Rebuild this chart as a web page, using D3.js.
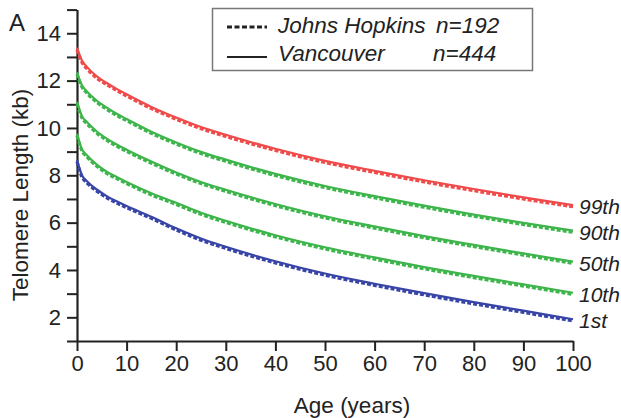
<!DOCTYPE html>
<html>
<head>
<meta charset="utf-8">
<script src="https://cdn.jsdelivr.net/npm/d3@7"></script>
<style>
  body { margin: 0; background: #fff; }
  svg { display: block; font-family: "Liberation Sans", Arial, sans-serif; }
</style>
</head>
<body>
<svg id="grafico" width="621" height="418"></svg>
<script>
// idades (anos) onde as curvas foram lidas
const idades = [0, 1, 2, 4, 6, 8, 10, 15, 20, 25, 30, 40, 50, 60, 70, 80, 90, 100];

// Vancouver (linha continua)
const vanP99 = [13.39, 12.85, 12.58, 12.18, 11.9, 11.65, 11.42, 10.89, 10.44, 10.04, 9.71, 9.12, 8.61, 8.19, 7.79, 7.42, 7.07, 6.74];
const vanP90 = [12.35, 11.8, 11.54, 11.15, 10.86, 10.6, 10.38, 9.84, 9.39, 8.99, 8.66, 8.06, 7.55, 7.12, 6.72, 6.34, 5.99, 5.66];
const vanP50 = [11.1, 10.5, 10.25, 9.85, 9.55, 9.3, 9.08, 8.58, 8.12, 7.72, 7.39, 6.79, 6.27, 5.84, 5.43, 5.06, 4.7, 4.35];
const vanP10 = [9.75, 9.1, 8.85, 8.45, 8.15, 7.93, 7.72, 7.24, 6.84, 6.42, 6.08, 5.47, 4.96, 4.53, 4.12, 3.75, 3.39, 3.04];
const vanP1 = [8.65, 8.0, 7.75, 7.4, 7.12, 6.9, 6.7, 6.25, 5.76, 5.33, 4.98, 4.37, 3.85, 3.42, 3.02, 2.64, 2.28, 1.92];

// Johns Hopkins (linha tracejada)
const jhP99 = [13.3, 12.77, 12.5, 12.1, 11.83, 11.58, 11.35, 10.82, 10.37, 9.97, 9.64, 9.05, 8.54, 8.12, 7.72, 7.35, 7.0, 6.67];
const jhP90 = [12.28, 11.73, 11.47, 11.08, 10.79, 10.53, 10.31, 9.77, 9.32, 8.92, 8.59, 7.99, 7.48, 7.05, 6.65, 6.27, 5.92, 5.59];
const jhP50 = [11.03, 10.43, 10.18, 9.78, 9.48, 9.23, 9.01, 8.51, 8.05, 7.65, 7.32, 6.72, 6.2, 5.77, 5.36, 4.99, 4.63, 4.28];
const jhP10 = [9.68, 9.03, 8.78, 8.38, 8.08, 7.86, 7.65, 7.17, 6.77, 6.35, 6.01, 5.4, 4.89, 4.46, 4.05, 3.68, 3.32, 2.97];
const jhP1 = [8.58, 7.93, 7.68, 7.33, 7.05, 6.83, 6.63, 6.18, 5.69, 5.26, 4.91, 4.3, 3.78, 3.35, 2.95, 2.57, 2.21, 1.85];

const percentis = ["99th", "90th", "50th", "10th", "1st"];
const coresPercentis = ["#ef4b4b", "#3db54b", "#3db54b", "#3db54b", "#3845a6"];
const seriesVan = [vanP99, vanP90, vanP50, vanP10, vanP1];
const seriesJh = [jhP99, jhP90, jhP50, jhP10, jhP1];

const ticksX = [0, 10, 20, 30, 40, 50, 60, 70, 80, 90, 100];
const ticksY = [1, 2, 3, 4, 5, 6, 7, 8, 9, 10, 11, 12, 13, 14, 15];
const rotulosY = [2, 4, 6, 8, 10, 12, 14];

const svg = d3.select("#grafico");
const corTexto = "#222";

const x = d3.scaleLinear().domain([0, 100]).range([77, 573]);
const y = d3.scaleLinear().domain([1, 15]).range([341, 9.6]);

// eixo X
const eixoX = svg.append("g")
    .attr("transform", "translate(0,341)")
    .call(d3.axisBottom(x).tickValues(ticksX).tickSize(10).tickSizeOuter(0).tickFormat(d3.format("d")));
eixoX.select(".domain").attr("stroke", corTexto).attr("stroke-width", 2.2);
eixoX.selectAll(".tick line").attr("stroke", corTexto).attr("stroke-width", 2);
eixoX.selectAll(".tick text")
    .attr("y", 14)
    .attr("fill", corTexto)
    .style("font-size", "22px")
    .style("font-family", "Liberation Sans, Arial, sans-serif");

// eixo Y
const eixoY = svg.append("g")
    .attr("transform", "translate(77,0)")
    .call(d3.axisLeft(y).tickValues(ticksY).tickSize(10).tickSizeOuter(0)
        .tickFormat(d => rotulosY.includes(d) ? d : ""));
eixoY.select(".domain").attr("stroke", corTexto).attr("stroke-width", 2.2);
eixoY.selectAll(".tick line").attr("stroke", corTexto).attr("stroke-width", 2);
eixoY.selectAll(".tick text")
    .attr("x", -16)
    .attr("fill", corTexto)
    .style("font-size", "22px")
    .style("font-family", "Liberation Sans, Arial, sans-serif");

// titulos dos eixos
svg.append("text")
    .attr("x", 352)
    .attr("y", 413)
    .attr("text-anchor", "middle")
    .attr("fill", corTexto)
    .style("font-size", "22.5px")
    .text("Age (years)");

svg.append("text")
    .attr("transform", "translate(28,195) rotate(-90)")
    .attr("text-anchor", "middle")
    .attr("fill", corTexto)
    .style("font-size", "22.5px")
    .text("Telomere Length (kb)");

svg.append("text")
    .attr("x", 9)
    .attr("y", 31)
    .attr("fill", corTexto)
    .style("font-size", "24px")
    .text("A");

// curvas
const linha = d3.line()
    .x((d, i) => x(idades[i]))
    .y(d => y(d))
    .curve(d3.curveMonotoneX);

seriesJh.forEach(function (serie, i) {
    svg.append("path")
        .attr("d", linha(serie))
        .attr("fill", "none")
        .attr("stroke", coresPercentis[i])
        .attr("stroke-width", 3.2)
        .attr("stroke-dasharray", "4,2");
});

seriesVan.forEach(function (serie, i) {
    svg.append("path")
        .attr("d", linha(serie))
        .attr("fill", "none")
        .attr("stroke", coresPercentis[i])
        .attr("stroke-width", 2.2);
});

// rotulos dos percentis
seriesVan.forEach(function (serie, i) {
    svg.append("text")
        .attr("x", 579)
        .attr("y", y(serie[serie.length - 1]) + 9)
        .attr("fill", corTexto)
        .style("font-size", "21px")
        .style("font-style", "italic")
        .text(percentis[i]);
});

// legenda
const legenda = svg.append("g");
legenda.append("rect")
    .attr("x", 212.5)
    .attr("y", 8.5)
    .attr("width", 320)
    .attr("height", 62)
    .attr("fill", "#fff")
    .attr("stroke", "#777")
    .attr("stroke-width", 1.5);

legenda.append("line")
    .attr("x1", 227).attr("x2", 267)
    .attr("y1", 27).attr("y2", 27)
    .attr("stroke", corTexto)
    .attr("stroke-width", 3)
    .attr("stroke-dasharray", "5,2.5");

legenda.append("line")
    .attr("x1", 227).attr("x2", 267)
    .attr("y1", 57).attr("y2", 57)
    .attr("stroke", corTexto)
    .attr("stroke-width", 2);

const textosLegenda = [
    { x: 278, y: 33, t: "Johns Hopkins" },
    { x: 436, y: 33, t: "n=192" },
    { x: 278, y: 61, t: "Vancouver" },
    { x: 433, y: 61, t: "n=444" }
];
legenda.selectAll("text.itemLegenda")
    .data(textosLegenda)
    .enter()
    .append("text")
    .attr("class", "itemLegenda")
    .attr("x", d => d.x)
    .attr("y", d => d.y)
    .attr("fill", corTexto)
    .style("font-size", "22.5px")
    .style("font-style", "italic")
    .text(d => d.t);
</script>
</body>
</html>
